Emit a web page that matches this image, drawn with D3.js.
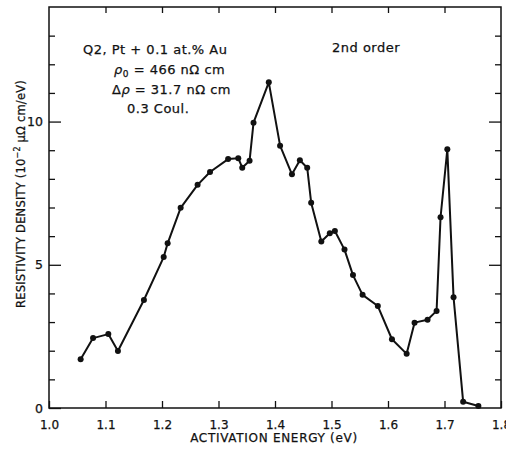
<!DOCTYPE html>
<html>
<head>
<meta charset="utf-8">
<script src="https://cdn.jsdelivr.net/npm/d3@7"></script>
<style>
  body { margin: 0; background: #fff; }
  text { font-family: "DejaVu Sans", "Liberation Sans", Arial, sans-serif; fill: #111; stroke: #111; stroke-width: 0.25; }
</style>
</head>
<body>
<script>
// activation energy (eV) and resistivity density (10^-2 uOhm cm/eV)
var energy = [1.056, 1.078, 1.105, 1.122, 1.168, 1.203, 1.210, 1.233, 1.263, 1.285,
              1.317, 1.335, 1.342, 1.355, 1.362, 1.389, 1.409, 1.430, 1.444, 1.457,
              1.464, 1.482, 1.497, 1.506, 1.523, 1.538, 1.555, 1.582, 1.607, 1.633,
              1.647, 1.670, 1.686, 1.693, 1.705, 1.716, 1.733, 1.760];
var density = [1.70, 2.44, 2.58, 1.99, 3.77, 5.27, 5.75, 6.99, 7.79, 8.24,
               8.69, 8.72, 8.39, 8.63, 9.96, 11.37, 9.16, 8.16, 8.65, 8.39,
               7.17, 5.81, 6.10, 6.18, 5.53, 4.64, 3.95, 3.56, 2.40, 1.89,
               2.98, 3.08, 3.39, 6.66, 9.03, 3.87, 0.22, 0.07];
var xTicks = [1.0, 1.1, 1.2, 1.3, 1.4, 1.5, 1.6, 1.7, 1.8];
var yTicks = [0, 1, 2, 3, 4, 5, 6, 7, 8, 9, 10, 11, 12, 13];
var yLabels = [0, 5, 10];

var W = 506, H = 455;
var margin = {top: 7, right: 5, bottom: 47, left: 49};
var width = W - margin.left - margin.right;
var height = H - margin.top - margin.bottom;

var svg = d3.select('body').append('svg').attr('width', W).attr('height', H);
var g = svg.append('g').attr('transform', 'translate(' + margin.left + ',' + margin.top + ')');

var x = d3.scaleLinear().domain([1.0, 1.8]).range([0, width]);
var y = d3.scaleLinear().domain([0, 14]).range([height, 0]);

function tickLen(v) { return yLabels.indexOf(v) >= 0 ? 12 : 6; }

// frame
g.append('rect').attr('width', width).attr('height', height)
  .attr('fill', 'none').attr('stroke', '#111').attr('stroke-width', 1.5);

// bottom axis: inward ticks, labels below
var bottomAxis = g.append('g').attr('transform', 'translate(0,' + height + ')')
  .call(d3.axisBottom(x).tickValues(xTicks).tickSize(-7).tickPadding(12)
    .tickFormat(d3.format('.1f')));
bottomAxis.select('.domain').remove();
bottomAxis.selectAll('line').attr('stroke', '#111').attr('stroke-width', 1.3);
bottomAxis.selectAll('text').attr('font-size', 12).attr('fill', '#111')
  .attr('font-family', '"DejaVu Sans", sans-serif');

// top axis ticks only
var topAxis = g.append('g')
  .call(d3.axisTop(x).tickValues(xTicks.slice(1, -1)).tickSize(-6).tickFormat(''));
topAxis.select('.domain').remove();
topAxis.selectAll('line').attr('stroke', '#111').attr('stroke-width', 1.3);

// left axis
var leftAxis = g.append('g')
  .call(d3.axisLeft(y).tickValues(yTicks).tickSize(0).tickPadding(6)
    .tickFormat(function(d) { return yLabels.indexOf(d) >= 0 ? d : ''; }));
leftAxis.select('.domain').remove();
leftAxis.selectAll('.tick line').attr('x2', function(d) { return tickLen(d); })
  .attr('stroke', '#111').attr('stroke-width', 1.3);
leftAxis.selectAll('text').attr('font-size', 12.5).attr('fill', '#111')
  .attr('font-family', '"DejaVu Sans", sans-serif');

// right axis
var rightAxis = g.append('g').attr('transform', 'translate(' + width + ',0)')
  .call(d3.axisRight(y).tickValues(yTicks.slice(1)).tickSize(0).tickFormat(''));
rightAxis.select('.domain').remove();
rightAxis.selectAll('.tick line').attr('x2', function(d) { return -tickLen(d); })
  .attr('stroke', '#111').attr('stroke-width', 1.3);

// curve + points
var pts = energy.map(function(e, i) { return [e, density[i]]; });
g.append('path').datum(pts)
  .attr('fill', 'none').attr('stroke', '#111').attr('stroke-width', 2)
  .attr('stroke-linejoin', 'round')
  .attr('d', d3.line().x(function(d) { return x(d[0]); }).y(function(d) { return y(d[1]); }));
g.selectAll('circle.pt').data(pts).enter().append('circle')
  .attr('class', 'pt')
  .attr('cx', function(d) { return x(d[0]); })
  .attr('cy', function(d) { return y(d[1]); })
  .attr('r', 3).attr('fill', '#111');

// axis titles
svg.append('text').attr('x', 274).attr('y', 442).attr('text-anchor', 'middle')
  .attr('font-size', 12).attr('letter-spacing', 0.7)
  .text('ACTIVATION ENERGY (eV)');

var yt = svg.append('text')
  .attr('transform', 'translate(25,194) rotate(-90)')
  .attr('text-anchor', 'middle').attr('font-size', 11.5).attr('letter-spacing', 0.2);
yt.append('tspan').text('RESISTIVITY DENSITY (10');
yt.append('tspan').attr('font-size', 8).attr('dy', -5).text('−2');
yt.append('tspan').attr('dy', 5).text(' μΩ cm/eV)');

// annotations
var notes = svg.append('g').attr('font-size', 13).attr('letter-spacing', 0.5);
notes.append('text').attr('x', 83).attr('y', 54).text('Q2,  Pt + 0.1 at.% Au');
var r0 = notes.append('text').attr('x', 114).attr('y', 74);
r0.append('tspan').attr('font-style', 'italic').text('ρ');
r0.append('tspan').attr('font-size', 9).attr('dy', 3).text('0');
r0.append('tspan').attr('dy', -3).text('  =  466 nΩ  cm');
var dr = notes.append('text').attr('x', 112).attr('y', 94);
dr.append('tspan').text('Δ');
dr.append('tspan').attr('font-style', 'italic').text('ρ');
dr.append('tspan').text('  =  31.7 nΩ  cm');
notes.append('text').attr('x', 127).attr('y', 113).text('0.3 Coul.');
notes.append('text').attr('x', 332).attr('y', 52).text('2nd order');
</script>
</body>
</html>
